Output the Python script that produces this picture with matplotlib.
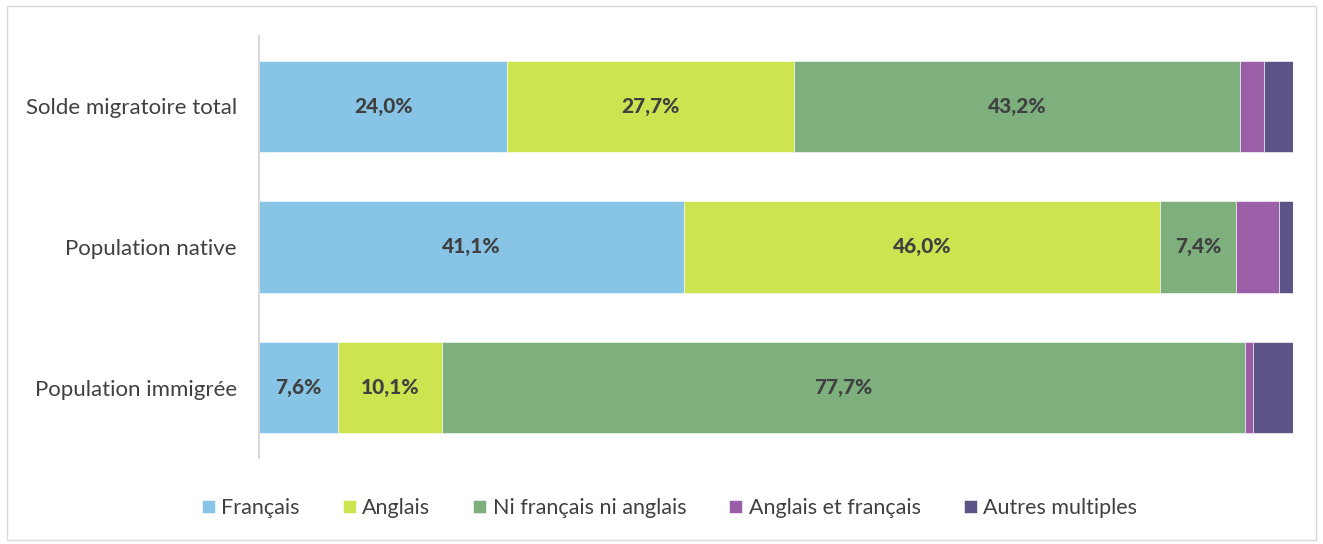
import matplotlib
matplotlib.use("Agg")
import matplotlib.pyplot as plt
from matplotlib.patches import Rectangle
import numpy as np

categories = ["Solde migratoire total", "Population native", "Population immigrée"]
series_names = ["Français", "Anglais", "Ni français ni anglais", "Anglais et français", "Autres multiples"]
francais = [24.0, 41.1, 7.6]
anglais = [27.7, 46.0, 10.1]
ni_fr_ni_an = [43.2, 7.4, 77.7]
anglais_et_fr = [2.3, 4.1, 0.7]
autres = [2.8, 1.4, 3.9]
colors = ["#87C4E6", "#CDE34F", "#7DB07D", "#9A5FA6", "#5A5487"]

series = [francais, anglais, ni_fr_ni_an, anglais_et_fr, autres]

plt.rcParams['font.family'] = ['Lato', 'DejaVu Sans']

fig = plt.figure(figsize=(13.23, 5.44), dpi=100)
ax = fig.add_axes([259/1323, 1 - 458/544, (1293 - 259)/1323, (458 - 36)/544])

y = np.arange(len(categories))
left = np.zeros(len(categories))
for name, vals, c in zip(series_names, series, colors):
    vals = np.array(vals)
    ax.barh(y, vals, left=left, height=0.65, color=c, label=name,
            edgecolor='white', linewidth=0.4)
    for yi, l, v in zip(y, left, vals):
        if v >= 5:
            ax.text(l + v / 2, yi, f"{v:.1f}%".replace('.', ','), ha='center', va='center',
                    fontsize=15, fontweight='black', color='#404040')
    left += vals

ax.set_xlim(0, 100)
ax.set_ylim(2.5, -0.5)
ax.set_yticks(y)
ax.set_yticklabels(categories, fontsize=16, color='#404040')
ax.tick_params(axis='y', length=0, pad=16)
ax.set_xticks([])
for s in ['top', 'right', 'bottom']:
    ax.spines[s].set_visible(False)
ax.spines['left'].set_color('#D9D9D9')
ax.spines['left'].set_linewidth(1.5)

leg = fig.legend(loc='center', bbox_to_anchor=(0.506, 1 - 508/544), ncol=5, frameon=False,
                 fontsize=15.5, handlelength=0.6, handleheight=0.6, handletextpad=0.3,
                 columnspacing=2.0, labelcolor='#404040')

fig.patches.append(Rectangle((7/1323, 4/544), 1309/1323, 534/544, transform=fig.transFigure,
                             fill=False, edgecolor='#D9D9D9', linewidth=1))

fig.savefig("out.png", dpi=100)
